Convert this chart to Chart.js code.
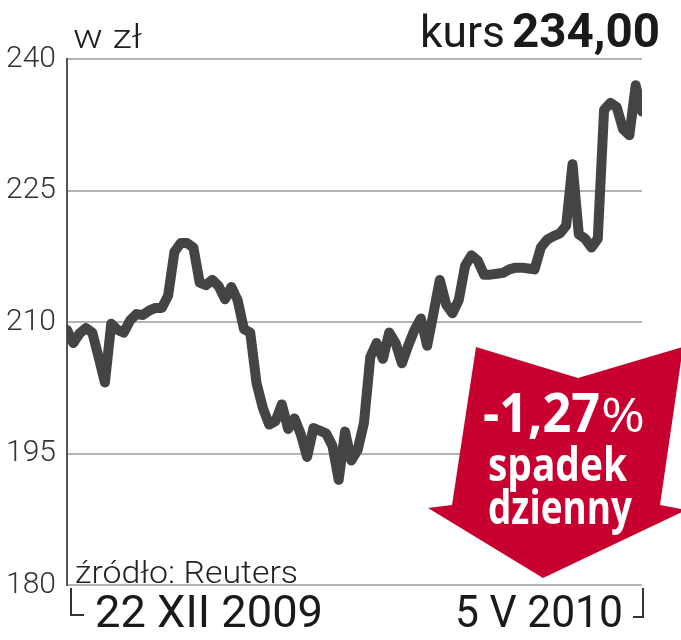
<!DOCTYPE html>
<html>
<head>
<meta charset="utf-8">
<script src="https://cdn.jsdelivr.net/npm/chart.js@4/dist/chart.umd.min.js"></script>
<style>
  html, body { margin: 0; padding: 0; background: #fff; }
</style>
</head>
<body>
<canvas id="myChart" width="681" height="640"></canvas>
<script>
// daily close, 22 XII 2009 .. 5 V 2010 (PLN)
const prices = [
  209.1, 207.6, 208.7, 209.3, 208.8, 206.0, 203.1, 209.8, 209.1, 208.8,
  210.2, 210.9, 210.8, 211.3, 211.6, 211.6, 213.0, 218.0, 219.0, 219.0,
  218.5, 214.5, 214.2, 214.8, 214.1, 212.6, 214.0, 212.5, 209.2, 208.8,
  203.0, 200.2, 198.3, 198.7, 200.6, 197.8, 199.0, 197.2, 194.6, 197.9,
  197.6, 197.3, 195.9, 192.0, 197.5, 194.2, 195.4, 198.5, 206.0, 207.6,
  205.8, 208.8, 207.6, 205.3, 207.3, 209.1, 210.4, 207.3, 211.0, 214.8,
  212.0, 211.0, 212.5, 216.4, 217.6, 217.0, 215.4, 215.4, 215.5, 215.6,
  216.0, 216.2, 216.2, 216.1, 216.0, 218.5, 219.4, 219.8, 220.1, 221.0,
  228.0, 220.0, 219.5, 218.5, 219.5, 234.2, 235.0, 234.5, 232.0, 231.3,
  237.0, 234.0
];
const yTicks = [180, 195, 210, 225, 240];
const dateLabels = ["22 XII 2009", "5 V 2010"];
const unitLabel = "w zł";
const priceLabel = ["kurs", "234,00"];
const changeLabel = ["-1,27", "%", "spadek", "dzienny"];
const sourceLabel = "źródło: Reuters";

function fitText(ctx, text, x, y, width, font, color) {
  ctx.font = font;
  ctx.fillStyle = color;
  ctx.textAlign = "left";
  ctx.textBaseline = "alphabetic";
  var w = ctx.measureText(text).width;
  ctx.save();
  ctx.translate(x, y);
  ctx.scale(width / w, 1);
  ctx.fillText(text, 0, 0);
  ctx.restore();
}

const extras = {
  id: "extras",
  afterDraw(chart) {
    const ctx = chart.ctx;
    ctx.save();

    // headings
    fitText(ctx, unitLabel, 73, 48, 69, "300 34px Roboto", "#222");
    fitText(ctx, priceLabel[0], 420, 47, 85, "400 44px Roboto", "#1a1a1a");
    fitText(ctx, priceLabel[1], 512, 47, 148, "700 48px Roboto", "#1a1a1a");
    fitText(ctx, sourceLabel, 75, 583, 223, "300 32px Roboto", "#222");

    // date brackets
    ctx.strokeStyle = "#333";
    ctx.lineWidth = 2;
    ctx.beginPath();
    ctx.moveTo(71, 588); ctx.lineTo(71, 615); ctx.lineTo(84, 615);
    ctx.moveTo(643, 588); ctx.lineTo(643, 617); ctx.lineTo(633, 617);
    ctx.stroke();
    fitText(ctx, dateLabels[0], 95, 627, 228, "400 44px Roboto", "#1a1a1a");
    fitText(ctx, dateLabels[1], 455, 627, 168, "400 44px Roboto", "#1a1a1a");

    // red arrow
    ctx.fillStyle = "#c8002f";
    ctx.beginPath();
    ctx.moveTo(476, 347);
    ctx.lineTo(578, 378);
    ctx.lineTo(683, 347);
    ctx.lineTo(660, 505);
    ctx.lineTo(686, 510);
    ctx.lineTo(543, 578);
    ctx.lineTo(428, 508);
    ctx.lineTo(452, 505);
    ctx.closePath();
    ctx.fill();

    fitText(ctx, changeLabel[0], 483, 432, 117, "700 54px 'Open Sans'", "#fff");
    fitText(ctx, changeLabel[1], 601, 432, 44, "500 48px 'Open Sans'", "#fff");
    fitText(ctx, changeLabel[2], 488, 481, 139, "700 46px 'Open Sans'", "#fff");
    fitText(ctx, changeLabel[3], 488, 524, 144, "700 46px 'Open Sans'", "#fff");

    ctx.restore();
  }
};

const config = {
  type: "line",
  data: {
    datasets: [{
      data: prices.map(function (p, i) { return { x: i, y: p }; }),
      borderColor: "#444",
      borderWidth: 10,
      borderJoinStyle: "round",
      borderCapStyle: "round",
      pointRadius: 0,
      tension: 0
    }]
  },
  options: {
    responsive: false,
    animation: false,
    devicePixelRatio: 1,
    layout: { padding: { left: 0, top: 59, right: 39, bottom: 55 } },
    plugins: { legend: { display: false }, tooltip: { enabled: false } },
    scales: {
      x: {
        type: "linear",
        display: false,
        min: 0,
        max: prices.length - 1
      },
      y: {
        min: yTicks[0],
        max: yTicks[yTicks.length - 1],
        afterBuildTicks: function (scale) {
          scale.ticks = yTicks.map(function (v) { return { value: v }; });
        },
        afterFit: function (scale) { scale.width = 67; },
        border: { display: true, color: "#555", width: 2 },
        grid: { color: "#b3b3b3", lineWidth: 2, drawTicks: false },
        ticks: {
          padding: 11,
          color: "#333",
          font: { family: "Roboto", weight: "300", size: 30 }
        }
      }
    }
  },
  plugins: [extras]
};

const myChart = new Chart(document.getElementById("myChart"), config);
</script>
</body>
</html>
